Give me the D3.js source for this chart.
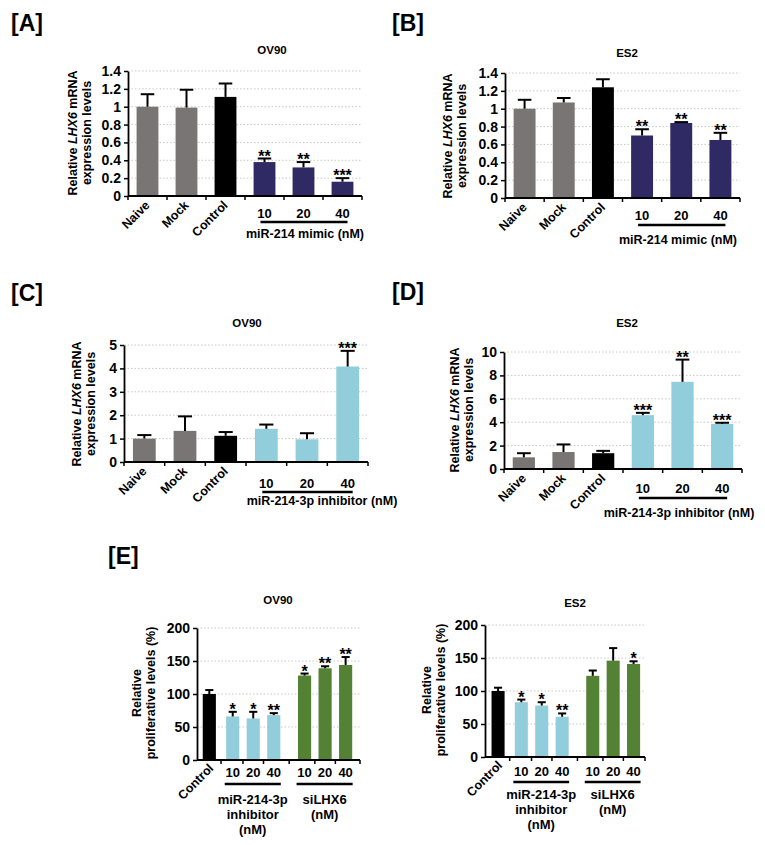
<!DOCTYPE html>
<html>
<head>
<meta charset="utf-8">
<script src="https://cdn.jsdelivr.net/npm/d3@7"></script>
<style>
body { margin: 0; background: #fff; }
text { font-family: "Liberation Sans", Arial, sans-serif; font-weight: bold; fill: #000; }
</style>
</head>
<body>
<script>
// ---- data ----
const conditions = ["Naive", "Mock", "Control", "10", "20", "40"];
const conditionGroup = ["naive", "mock", "control", "dose", "dose", "dose"];

// [A] OV90, miR-214 mimic
const aMean = [1.00, 0.99, 1.11, 0.38, 0.32, 0.16];
const aTop = [1.14, 1.19, 1.26, 0.42, 0.38, 0.20];
const aStars = ["", "", "", "**", "**", "***"];
// [B] ES2, miR-214 mimic
const bMean = [1.00, 1.07, 1.24, 0.70, 0.84, 0.65];
const bTop = [1.10, 1.12, 1.33, 0.77, 0.85, 0.73];
const bStars = ["", "", "", "**", "**", "**"];
// [C] OV90, miR-214-3p inhibitor
const cMean = [1.00, 1.33, 1.12, 1.42, 0.97, 4.08];
const cTop = [1.15, 1.95, 1.28, 1.60, 1.23, 4.75];
const cStars = ["", "", "", "", "", "***"];
// [D] ES2, miR-214-3p inhibitor
const dMean = [1.00, 1.45, 1.35, 4.60, 7.45, 3.85];
const dTop = [1.35, 2.10, 1.55, 4.80, 9.35, 3.95];
const dStars = ["", "", "", "***", "**", "***"];

// [E] proliferation
const eConditions = ["Control", "10", "20", "40", "10", "20", "40"];
const eGroup = ["control", "inhibitor", "inhibitor", "inhibitor", "siLHX6", "siLHX6", "siLHX6"];
const eOvMean = [100, 66, 63, 68, 128, 139, 144];
const eOvTop = [106, 73, 73, 71, 131, 142, 156];
const eOvStars = ["", "*", "*", "**", "*", "**", "**"];
const eEsMean = [100, 83, 78, 61, 123, 146, 141];
const eEsTop = [105, 87, 83, 66, 131, 165, 145];
const eEsStars = ["", "*", "*", "**", "", "", "*"];

// ---- drawing ----
const W = 765, H = 845;
const svg = d3.select("body").append("svg")
    .attr("width", W).attr("height", H);
svg.append("rect").attr("width", W).attr("height", H).attr("fill", "#fff");

const colour = d3.scaleOrdinal()
    .domain(["naive", "mock", "control", "mimic", "inhibitor", "siLHX6"])
    .range(["#7a7575", "#7a7575", "#000000", "#2f2a63", "#92cddc", "#548235"]);

function yTitle(g, x, y, italicLine) {
    const t1 = g.append("text")
        .attr("transform", "translate(" + x + "," + y + ") rotate(-90)")
        .attr("text-anchor", "middle").attr("dy", "0.35em")
        .style("font-size", "12.5px");
    if (italicLine) {
        t1.append("tspan").text("Relative ");
        t1.append("tspan").style("font-style", "italic").text("LHX6");
        t1.append("tspan").text(" mRNA");
    } else {
        t1.text("Relative");
    }
    g.append("text")
        .attr("transform", "translate(" + (x + 14) + "," + y + ") rotate(-90)")
        .attr("text-anchor", "middle").attr("dy", "0.35em")
        .style("font-size", "12.5px")
        .text(italicLine ? "expression levels" : "proliferative levels (%)");
}

function yAxisGrid(g, y, x0, x1, ticks, fmt) {
    // dotted grid
    g.selectAll(".grid").data(ticks.filter(t => t > 0)).enter()
        .append("line")
        .attr("x1", x0).attr("x2", x1)
        .attr("y1", d => y(d)).attr("y2", d => y(d))
        .attr("stroke", "#c8c8c8").attr("stroke-width", 1)
        .attr("stroke-dasharray", "1.5,2");

    const ax = g.append("g")
        .attr("transform", "translate(" + x0 + ",0)")
        .call(d3.axisLeft(y).tickValues(ticks).tickFormat(fmt).tickSize(4).tickSizeOuter(0));
    ax.select(".domain").attr("stroke", "#000").attr("stroke-width", 1.8);
    ax.selectAll(".tick line").attr("stroke", "#000").attr("stroke-width", 1.5);
    ax.selectAll(".tick text").style("font-size", "14px").attr("x", -7);
}

function bar(g, cx, bw, y, mean, top, fill, stars) {
    g.append("rect")
        .attr("x", cx - bw / 2).attr("width", bw)
        .attr("y", y(mean)).attr("height", y(0) - y(mean))
        .attr("fill", fill);
    const cap = bw * 0.62;
    g.append("line").attr("x1", cx).attr("x2", cx)
        .attr("y1", y(mean)).attr("y2", y(top))
        .attr("stroke", "#000").attr("stroke-width", 2);
    g.append("line").attr("x1", cx - cap / 2).attr("x2", cx + cap / 2)
        .attr("y1", y(top)).attr("y2", y(top))
        .attr("stroke", "#000").attr("stroke-width", 2);
    if (stars) {
        g.append("text").attr("x", cx).attr("y", y(top) + 3)
            .attr("text-anchor", "middle").style("font-size", "16px")
            .text(stars);
    }
}

function panel(o) {
    const g = svg.append("g");
    g.append("text").attr("x", o.letter[1]).attr("y", o.letter[2])
        .style("font-size", "23px").text(o.letter[0]);
    g.append("text").attr("x", o.title[1]).attr("y", o.title[2])
        .attr("text-anchor", "middle").style("font-size", "11.5px").text(o.title[0]);

    const y = d3.scaleLinear().domain([0, o.max]).range([o.y0, o.y1]);
    const x = d3.scaleBand().domain(d3.range(conditions.length))
        .range([o.x0, o.x1]).paddingInner(0.44).paddingOuter(0.22);
    const bw = x.bandwidth();
    const cx = i => x(i) + bw / 2;

    yAxisGrid(g, y, o.x0, o.x1, d3.range(0, o.max + o.step / 2, o.step), d3.format("~g"));

    conditions.forEach((c, i) => {
        const grp = conditionGroup[i] === "dose" ? o.dose : conditionGroup[i];
        bar(g, cx(i), bw, y, o.mean[i], o.top[i], colour(grp), o.stars[i]);
    });

    // x axis with ticks at category boundaries
    g.append("line").attr("x1", o.x0).attr("x2", o.x1)
        .attr("y1", o.y0).attr("y2", o.y0)
        .attr("stroke", "#000").attr("stroke-width", 1.8);
    g.selectAll(".xt").data(d3.range(conditions.length + 1)).enter().append("line")
        .attr("x1", i => o.x0 + i * x.step()).attr("x2", i => o.x0 + i * x.step())
        .attr("y1", o.y0).attr("y2", o.y0 + 4)
        .attr("stroke", "#000").attr("stroke-width", 1.5);

    conditions.forEach((c, i) => {
        if (conditionGroup[i] === "dose") {
            g.append("text").attr("x", cx(i)).attr("y", o.numY)
                .attr("text-anchor", "middle").style("font-size", "13px").text(c);
        } else {
            g.append("text")
                .attr("transform", "translate(" + (cx(i) + 3) + "," + (o.y0 + 10) + ") rotate(-45)")
                .attr("text-anchor", "end").style("font-size", "12.5px").text(c);
        }
    });
    const doseIdx = conditions.map((c, i) => i).filter(i => conditionGroup[i] === "dose");
    g.append("line")
        .attr("x1", cx(doseIdx[0]) - 4).attr("x2", cx(doseIdx[doseIdx.length - 1]) + 5)
        .attr("y1", o.lineY).attr("y2", o.lineY)
        .attr("stroke", "#000").attr("stroke-width", 2.5);
    g.append("text").attr("x", o.doseLabel[1]).attr("y", o.doseLabel[2])
        .attr("text-anchor", "middle").style("font-size", "12.5px").text(o.doseLabel[0]);

    yTitle(g, o.yLab[0], o.yLab[1], true);
}

panel({ letter: ["[A]", 11, 31], title: ["OV90", 272, 54],
    x0: 128, x1: 362, y0: 196, y1: 71, max: 1.4, step: 0.2,
    mean: aMean, top: aTop, stars: aStars, dose: "mimic",
    numY: 218, lineY: 222, doseLabel: ["miR-214 mimic (nM)", 305, 238], yLab: [73, 133] });
panel({ letter: ["[B]", 392, 31], title: ["ES2", 627, 57],
    x0: 505, x1: 740, y0: 198, y1: 73, max: 1.4, step: 0.2,
    mean: bMean, top: bTop, stars: bStars, dose: "mimic",
    numY: 220, lineY: 225, doseLabel: ["miR-214 mimic (nM)", 678, 244], yLab: [448, 136] });
panel({ letter: ["[C]", 11, 301], title: ["OV90", 247, 327],
    x0: 124, x1: 368, y0: 462, y1: 345, max: 5, step: 1,
    mean: cMean, top: cTop, stars: cStars, dose: "inhibitor",
    numY: 488, lineY: 492, doseLabel: ["miR-214-3p inhibitor (nM)", 322, 505], yLab: [77, 404] });
panel({ letter: ["[D]", 392, 300], title: ["ES2", 627, 327],
    x0: 504, x1: 742, y0: 469, y1: 352, max: 10, step: 2,
    mean: dMean, top: dTop, stars: dStars, dose: "inhibitor",
    numY: 493, lineY: 498, doseLabel: ["miR-214-3p inhibitor (nM)", 679, 517], yLab: [455, 410] });

// ---- [E] ----
const groupGap = { control: 0, inhibitor: 0.14, siLHX6: 0.64 };
const eSlot = eConditions.map((c, i) => i + groupGap[eGroup[i]]);

function panelE(o) {
    const g = svg.append("g");
    g.append("text").attr("x", o.title[1]).attr("y", o.title[2])
        .attr("text-anchor", "middle").style("font-size", "11.5px").text(o.title[0]);

    const y = d3.scaleLinear().domain([0, 200]).range([o.y0, o.y1]);
    const x = d3.scaleLinear().domain(o.xDom).range([o.x0, o.x1]);
    const unit = x(1) - x(0);
    const bw = unit * 0.64;

    yAxisGrid(g, y, o.x0, o.x1, d3.range(0, 201, 50), d3.format("d"));

    eConditions.forEach((c, i) => {
        bar(g, x(eSlot[i]), bw, y, o.mean[i], o.top[i], colour(eGroup[i]), o.stars[i]);
    });

    g.append("line").attr("x1", o.x0).attr("x2", o.x1)
        .attr("y1", o.y0).attr("y2", o.y0)
        .attr("stroke", "#000").attr("stroke-width", 1.8);
    const mids = eSlot.slice(1).map((s, i) => (s + eSlot[i]) / 2).concat([o.xDom[1]]);
    g.selectAll(".xt").data(mids).enter().append("line")
        .attr("x1", d => x(d)).attr("x2", d => x(d))
        .attr("y1", o.y0).attr("y2", o.y0 + 4)
        .attr("stroke", "#000").attr("stroke-width", 1.5);

    eConditions.forEach((c, i) => {
        if (eGroup[i] === "control") {
            g.append("text")
                .attr("transform", "translate(" + (x(eSlot[i]) + 5) + "," + (o.y0 + 9) + ") rotate(-45)")
                .attr("text-anchor", "end").style("font-size", "12.5px").text(c);
        } else {
            g.append("text").attr("x", x(eSlot[i])).attr("y", o.numY)
                .attr("text-anchor", "middle").style("font-size", "13px").text(c);
        }
    });

    const groupText = { inhibitor: ["miR-214-3p", "inhibitor", "(nM)"], siLHX6: ["siLHX6", "(nM)"] };
    ["inhibitor", "siLHX6"].forEach(grp => {
        const idx = eGroup.map((d, i) => i).filter(i => eGroup[i] === grp);
        const a = x(eSlot[idx[0]]) - 8, b = x(eSlot[idx[idx.length - 1]]) + 7;
        g.append("line").attr("x1", a).attr("x2", b)
            .attr("y1", o.lineY).attr("y2", o.lineY)
            .attr("stroke", "#000").attr("stroke-width", 2.5);
        groupText[grp].forEach((t, k) => {
            g.append("text").attr("x", (a + b) / 2).attr("y", o.textY + k * 15)
                .attr("text-anchor", "middle").style("font-size", "13px").text(t);
        });
    });

    yTitle(g, o.yLab[0], o.yLab[1], false);
}

svg.append("text").attr("x", 108).attr("y", 564).style("font-size", "23px").text("[E]");

panelE({ title: ["OV90", 278, 604], x0: 197, x1: 360, y0: 760, y1: 628, xDom: [-0.6, 7.34],
    mean: eOvMean, top: eOvTop, stars: eOvStars,
    numY: 777, lineY: 784, textY: 804, yLab: [137, 693] });
panelE({ title: ["ES2", 575, 607], x0: 485, x1: 645, y0: 757, y1: 625, xDom: [-0.64, 7.2],
    mean: eEsMean, top: eEsTop, stars: eEsStars,
    numY: 776, lineY: 782, textY: 799, yLab: [427, 690] });
</script>
</body>
</html>
